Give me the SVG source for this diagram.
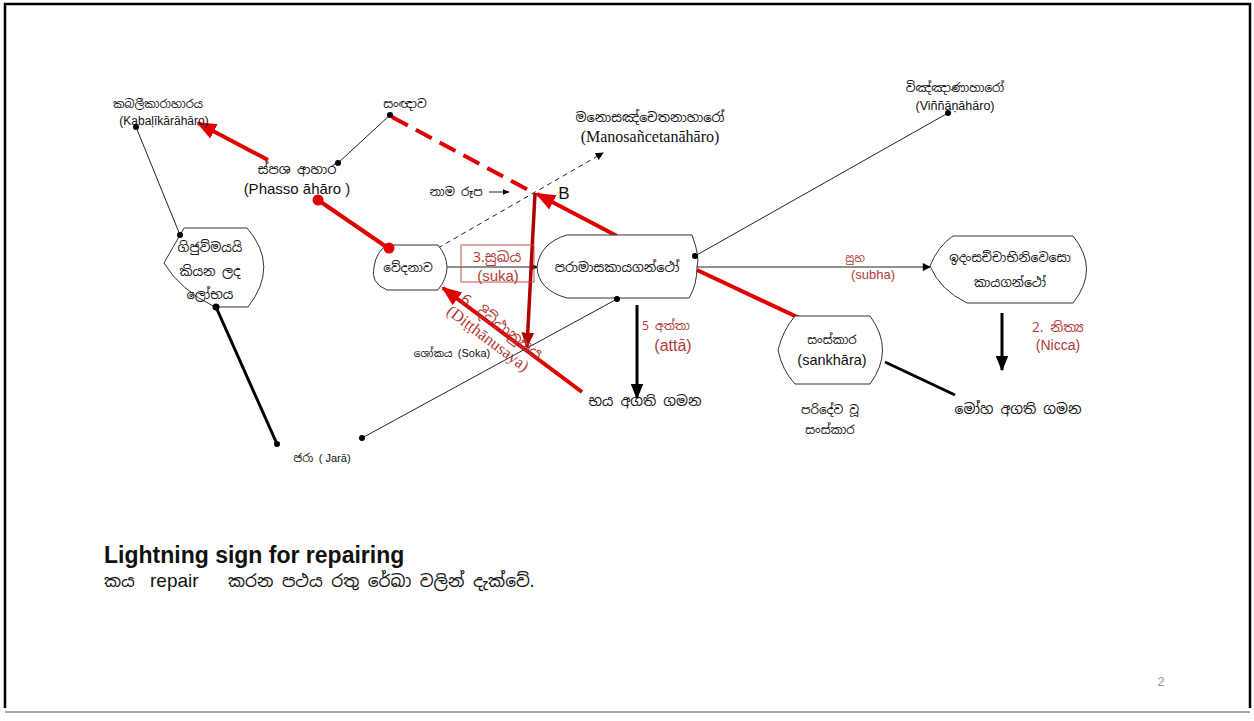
<svg xmlns="http://www.w3.org/2000/svg" width="1254" height="721" viewBox="0 0 1254 721">
  <defs>
    <style>
      .si { font-family: "Noto Sans Sinhala", "Noto Sans", "Liberation Sans", sans-serif; fill: #111; }
      .lat { font-family: "Liberation Sans", Arial, sans-serif; fill: #111; }
      .ser { font-family: "Liberation Serif", "Times New Roman", serif; fill: #111; }
      .rl { fill: #b03a36; }
      .node { fill: #fff; stroke: #333; stroke-width: 1; }
      .thin { stroke: #222; stroke-width: 1; fill: none; }
      .thick { stroke: #000; stroke-width: 3; fill: none; }
      .red { stroke: #e00000; stroke-width: 4; fill: none; }
      .dot { fill: #000; }
    </style>
    <marker id="ah" viewBox="0 0 10 10" refX="9" refY="5" markerWidth="7" markerHeight="7" orient="auto" markerUnits="userSpaceOnUse">
      <path d="M0,1 L10,5 L0,9 z" fill="#000"/>
    </marker>
    <marker id="ahS" viewBox="0 0 10 10" refX="9" refY="5" markerWidth="10" markerHeight="8" orient="auto" markerUnits="userSpaceOnUse">
      <path d="M0,0 L10,5 L0,10 z" fill="#000"/>
    </marker>
    <marker id="ahBig" viewBox="0 0 10 10" refX="9" refY="5" markerWidth="16" markerHeight="16" orient="auto" markerUnits="userSpaceOnUse">
      <path d="M0,1 L10,5 L0,9 z" fill="#000"/>
    </marker>
    <marker id="ahRed" viewBox="0 0 10 10" refX="9" refY="5" markerWidth="20" markerHeight="20" orient="auto" markerUnits="userSpaceOnUse">
      <path d="M0,1 L10,5 L0,9 z" fill="#e00000"/>
    </marker>
    <marker id="ahDark" viewBox="0 0 10 10" refX="9" refY="5" markerWidth="16" markerHeight="16" orient="auto" markerUnits="userSpaceOnUse">
      <path d="M0,1 L10,5 L0,9 z" fill="#b00000"/>
    </marker>
  </defs>

  <rect width="1254" height="721" fill="#fff"/>

  <!-- page frame -->
  <g id="frame">
    <path d="M5,708 L5,4 L1250,4 L1250,708" fill="none" stroke="#000" stroke-width="2.5"/>
    <line x1="5" y1="712" x2="1250" y2="712" stroke="#888" stroke-width="1.5"/>
  </g>

  <!-- connectors -->
  <g id="connectors">
    <!-- thin black links -->
    <line class="thin" x1="136" y1="127" x2="180" y2="235"/>
    <line class="thin" x1="338" y1="163" x2="390" y2="115"/>
    <line class="thin" x1="695" y1="256" x2="948" y2="113"/>
    <line class="thin" x1="617" y1="299" x2="362" y2="438"/>
    <line class="thin" x1="447" y1="267" x2="538" y2="267" marker-end="url(#ah)"/>
    <line class="thin" x1="697" y1="267" x2="930" y2="267" marker-end="url(#ahS)"/>
    <line class="thin" x1="438" y1="248" x2="603" y2="153" stroke-dasharray="5,4" marker-end="url(#ahS)"/>
    <line class="thin" x1="489" y1="192" x2="509" y2="192" marker-end="url(#ah)"/>

    <!-- heavy black links -->
    <line class="thick" x1="216" y1="307" x2="277" y2="444"/>
    <line class="thick" x1="885" y1="362" x2="955" y2="395"/>
    <line class="thick" x1="637" y1="305" x2="637" y2="398" marker-end="url(#ahBig)"/>
    <line class="thick" x1="1002" y1="313" x2="1002" y2="370" marker-end="url(#ahBig)"/>

    <!-- red repair paths -->
    <line class="red" x1="268" y1="160" x2="198" y2="123" marker-end="url(#ahRed)"/>
    <line class="red" x1="318" y1="200" x2="388" y2="248"/>
    <line class="red" x1="392" y1="117" x2="534" y2="193" stroke-dasharray="18,9"/>
    <line class="red" x1="617" y1="236" x2="537" y2="194" marker-end="url(#ahRed)"/>
    <line class="red" x1="697" y1="270" x2="810" y2="323"/>
    <line class="red" x1="582" y1="392" x2="443" y2="288" marker-end="url(#ahRed)"/>
    <line x1="535" y1="193" x2="527" y2="347" stroke="#b00000" stroke-width="3.5" marker-end="url(#ahDark)"/>

    <!-- link end dots -->
    <circle class="dot" cx="136" cy="127" r="3"/>
    <circle class="dot" cx="277" cy="444" r="3"/>
    <circle class="dot" cx="338" cy="163" r="3"/>
    <circle class="dot" cx="390" cy="115" r="3"/>
    <circle class="dot" cx="948" cy="113" r="3"/>
    <circle class="dot" cx="362" cy="438" r="3"/>
    <circle cx="318" cy="200" r="5.5" fill="#e00000"/>
  </g>

  <!-- floating labels -->
  <g id="label-kabalikara">
    <text class="si" x="158" y="108" font-size="11.5" text-anchor="middle">කබලීකාරාහාරය</text>
    <text class="lat" x="164" y="125" font-size="12" text-anchor="middle">(Kabaḷīkārāhāro)</text>
  </g>
  <g id="label-sanna">
    <text class="si" x="405" y="108" font-size="12" text-anchor="middle">සංඥාව</text>
  </g>
  <g id="label-phassa">
    <text class="si" x="297" y="174" font-size="13" text-anchor="middle">ස්පශ ආහාර</text>
    <text class="lat" x="297" y="194" font-size="15" text-anchor="middle">(Phasso āhāro )</text>
  </g>
  <g id="label-manosancetana">
    <text class="si" x="650" y="122" font-size="13" text-anchor="middle">මනොසඤ්චෙතනාහාරෝ</text>
    <text class="ser" x="650" y="142" font-size="16" text-anchor="middle">(Manosañcetanāhāro)</text>
  </g>
  <g id="label-vinnana">
    <text class="si" x="955" y="92" font-size="12" text-anchor="middle">විඤ්ඤාණාහාරෝ</text>
    <text class="lat" x="955" y="110" font-size="12.5" text-anchor="middle">(Viññāṇāhāro)</text>
  </g>
  <g id="label-namarupa">
    <text class="si" x="456" y="196" font-size="12" text-anchor="middle">නාම රූප</text>
    <text class="lat" x="564" y="199" font-size="17" text-anchor="middle">B</text>
  </g>
  <g id="label-sukha">
    <rect x="461" y="245" width="73" height="37" fill="none" stroke="#c0504d" stroke-width="1"/>
    <text class="si rl" x="497" y="262" font-size="14.5" text-anchor="middle">3.සුඛය</text>
    <text class="lat rl" x="498" y="281" font-size="15" text-anchor="middle">(suka)</text>
  </g>
  <g id="label-ditthanusaya" transform="translate(446,296) rotate(37)">
    <text class="si rl" x="14" y="-4" font-size="15">6. දිට්ඨානුසය</text>
    <text class="ser rl" x="10" y="14" font-size="16.5">(Diṭṭhānusaya)</text>
  </g>
  <g id="label-soka">
    <text class="si" x="452" y="357" font-size="10.5" text-anchor="middle">ශෝකය <tspan class="lat" font-size="11">(Soka)</tspan></text>
  </g>
  <g id="label-jara">
    <text class="si" x="322" y="462" font-size="11" text-anchor="middle">ජරා <tspan class="lat">( Jarā)</tspan></text>
  </g>
  <g id="label-atta">
    <text class="si rl" x="666" y="330" font-size="12" text-anchor="middle">5 අත්තා</text>
    <text class="lat rl" x="673" y="351" font-size="16" text-anchor="middle">(attā)</text>
  </g>
  <g id="label-bhaya">
    <text class="si" x="645" y="406" font-size="14" text-anchor="middle">භය අගති ගමන</text>
  </g>
  <g id="label-subha">
    <text class="si rl" x="855" y="262" font-size="11" text-anchor="middle">සුභ</text>
    <text class="lat rl" x="873" y="279" font-size="13" text-anchor="middle">(subha)</text>
  </g>
  <g id="label-nicca">
    <text class="si rl" x="1058" y="332" font-size="13.5" text-anchor="middle">2. නිත්‍ය</text>
    <text class="lat rl" x="1058" y="350" font-size="14" text-anchor="middle">(Nicca)</text>
  </g>
  <g id="label-moha">
    <text class="si" x="1018" y="414" font-size="14" text-anchor="middle">මෝහ අගති ගමන</text>
  </g>
  <g id="label-paridev">
    <text class="si" x="830" y="414" font-size="12" text-anchor="middle">පරිදේව වූ</text>
    <text class="si" x="830" y="434" font-size="12" text-anchor="middle">සංස්කාර</text>
  </g>

  <!-- nodes -->
  <g id="node-lobha">
    <path class="node" d="M184,228 L247,228 Q280,266 248,307 L215,307 Q180,290 164,263 L184,228 Z"/>
    <circle class="dot" cx="180" cy="235" r="3"/>
    <circle class="dot" cx="216" cy="307" r="3.5"/>
    <text class="si" x="210" y="252" font-size="13" text-anchor="middle">ගිජුව්මයයි</text>
    <text class="si" x="210" y="276" font-size="13" text-anchor="middle">කියන ලද</text>
    <text class="si" x="210" y="299" font-size="13" text-anchor="middle">ලෝභය</text>
  </g>
  <g id="node-vedana">
    <path class="node" d="M387,245 L438,245 Q456,267 438,290 L387,290 Q370,283 374,267 Q376,252 387,245 Z"/>
    <circle cx="389" cy="248" r="5.5" fill="#e00000"/>
    <text class="si" x="408" y="272" font-size="12" text-anchor="middle">වේදනාව</text>
  </g>
  <g id="node-paramasa">
    <path class="node" d="M567,235 L692,235 Q700,256 697,267 Q697,285 689,298 L567,298 Q538,290 537,267 Q540,243 567,235 Z"/>
    <circle class="dot" cx="695" cy="256" r="3"/>
    <circle class="dot" cx="617" cy="299" r="3"/>
    <text class="si" x="617" y="272" font-size="13" text-anchor="middle">පරාමාසකායගන්ථෝ</text>
  </g>
  <g id="node-idamsacca">
    <path class="node" d="M953,236 L1073,236 Q1100,269 1073,303 L967,303 Q940,290 930,266 Q938,246 953,236 Z"/>
    <text class="si" x="1010" y="262" font-size="12.5" text-anchor="middle">ඉදංසච්චාභිනිවෙසො</text>
    <text class="si" x="1010" y="287" font-size="12.5" text-anchor="middle">කායගන්ථෝ</text>
  </g>
  <g id="node-sankhara">
    <path class="node" d="M795,316 L870,316 Q895,350 870,384 L795,384 Q782,370 778,350 Q783,330 795,316 Z"/>
    <text class="si" x="832" y="344" font-size="12" text-anchor="middle">සංස්කාර</text>
    <text class="lat" x="832" y="365" font-size="14.5" text-anchor="middle">(sankhāra)</text>
  </g>

  <!-- caption -->
  <g id="caption">
    <text class="lat" x="104" y="563" font-size="23" font-weight="bold">Lightning sign for repairing</text>
    <text class="si" y="587" font-size="17"><tspan x="104">කය</tspan><tspan class="lat" x="150" font-size="19">repair</tspan><tspan x="228">කරන පථය රතු රේඛා වලින් දැක්වේ.</tspan></text>
  </g>
  <text class="lat" x="1161" y="686" font-size="13" style="fill:#999" text-anchor="middle">2</text>
</svg>
